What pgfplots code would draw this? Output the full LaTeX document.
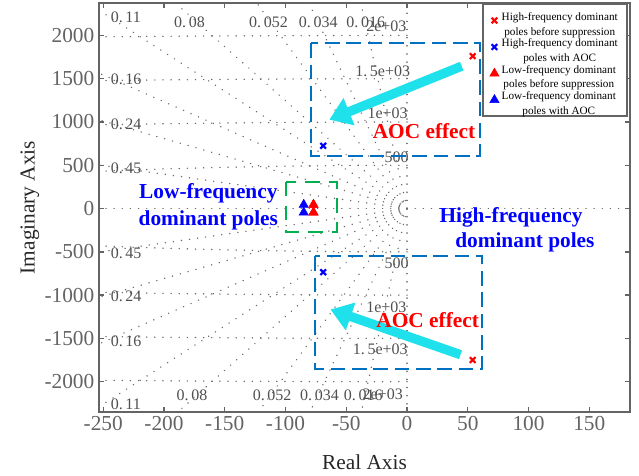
\documentclass[border=0pt]{standalone}
\usepackage{fontspec}
\setmainfont{Liberation Serif}
\usepackage{pgfplots}
\pgfplotsset{compat=1.18}
\usetikzlibrary{arrows.meta}
\definecolor{gridgray}{RGB}{105,105,105}
\definecolor{axgray}{RGB}{100,100,100}
\definecolor{lblgray}{RGB}{80,80,80}
\definecolor{boxblue}{RGB}{0,112,192}
\definecolor{boxgreen}{RGB}{0,176,80}
\definecolor{arrowcyan}{RGB}{30,225,235}
\pgfplotsset{gridline/.style={gridgray, line width=1.1pt, dash pattern=on 0.1pt off 6pt, line cap=round, forget plot}}
\tikzset{gridlbl/.style={text=lblgray, font=\fontsize{12}{12}\selectfont, inner sep=0pt}}
\begin{document}
\begin{tikzpicture}
\begin{axis}[
  scale only axis, width=398.25pt, height=306.75pt,
  xmin=-253.5, xmax=183.5, ymin=-2350, ymax=2375,
  xtick={-250,-200,...,150}, ytick={-2000,-1500,...,2000},
  tick align=inside, major tick length=3.75pt,
  axis line style={axgray, line width=1.6pt},
  tick style={axgray, line width=1pt},
  ticklabel style={font=\fontsize{16}{16}\selectfont, text=axgray},
  /pgf/number format/assume math mode=true,
  /pgf/number format/1000 sep={},
  xlabel={Real Axis}, ylabel={Imaginary Axis},
  label style={font=\fontsize{16}{16}\selectfont, text=black!85},
  xlabel style={at={(axis description cs:0.5,-0.122)}, anchor=center},
  ylabel style={at={(axis description cs:-0.13,0.5)}, anchor=center},
  legend style={at={(rel axis cs:0.996,0.998)}, anchor=north east, draw=axgray, line width=1.2pt,
    fill=white, font=\fontsize{8.4}{9.6}\selectfont, row sep=2pt, inner xsep=5pt, inner ysep=3pt},
  legend cell align=left,
]
% damping rays (zeta = 0.016 ... 0.45), upper and lower
\addplot[gridline] coordinates {(0,0) (-300,18747)};
\addplot[gridline] coordinates {(0,0) (-300,8818)};
\addplot[gridline] coordinates {(0,0) (-300,5761)};
\addplot[gridline] coordinates {(0,0) (-300,3738)};
\addplot[gridline] coordinates {(0,0) (-300,2711)};
\addplot[gridline] coordinates {(0,0) (-300,1851)};
\addplot[gridline] coordinates {(0,0) (-300,1213)};
\addplot[gridline] coordinates {(0,0) (-300,595)};
\addplot[gridline] coordinates {(0,0) (-300,-18747)};
\addplot[gridline] coordinates {(0,0) (-300,-8818)};
\addplot[gridline] coordinates {(0,0) (-300,-5761)};
\addplot[gridline] coordinates {(0,0) (-300,-3738)};
\addplot[gridline] coordinates {(0,0) (-300,-2711)};
\addplot[gridline] coordinates {(0,0) (-300,-1851)};
\addplot[gridline] coordinates {(0,0) (-300,-1213)};
\addplot[gridline] coordinates {(0,0) (-300,-595)};
\addplot[gridline] coordinates {(0,0) (-300,0)};
\addplot[gridline] coordinates {(0,0) (200,0)};
\addplot[gridline] coordinates {(0,0) (0,2500)};
\addplot[gridline] coordinates {(0,0) (0,-2500)};
% natural frequency circles 500, 1000, 1500, 2000
\addplot[gridline] coordinates {(0,500) (-50,497.5) (-100,489.9) (-150,477.0) (-200,458.3) (-260,427.4)};
\addplot[gridline] coordinates {(0,1000) (-50,998.7) (-100,995.0) (-150,988.7) (-200,979.8) (-260,965.6)};
\addplot[gridline] coordinates {(0,1500) (-50,1499.2) (-100,1496.7) (-150,1492.5) (-200,1486.6) (-260,1477.3)};
\addplot[gridline] coordinates {(0,2000) (-50,1999.4) (-100,1997.5) (-150,1994.4) (-200,1990.0) (-260,1983.0)};
\addplot[gridline] coordinates {(0,-500) (-50,-497.5) (-100,-489.9) (-150,-477.0) (-200,-458.3) (-260,-427.4)};
\addplot[gridline] coordinates {(0,-1000) (-50,-998.7) (-100,-995.0) (-150,-988.7) (-200,-979.8) (-260,-965.6)};
\addplot[gridline] coordinates {(0,-1500) (-50,-1499.2) (-100,-1496.7) (-150,-1492.5) (-200,-1486.6) (-260,-1477.3)};
\addplot[gridline] coordinates {(0,-2000) (-50,-1999.4) (-100,-1997.5) (-150,-1994.4) (-200,-1990.0) (-260,-1983.0)};
% grid labels
\node[gridlbl, anchor=west] at (axis cs:-244,2210) {0.\,11};
\node[gridlbl, anchor=west] at (axis cs:-244,1491) {0.\,16};
\node[gridlbl, anchor=west] at (axis cs:-244,975) {0.\,24};
\node[gridlbl, anchor=west] at (axis cs:-244,470) {0.\,45};
\node[gridlbl, anchor=west] at (axis cs:-244,-515) {0.\,45};
\node[gridlbl, anchor=west] at (axis cs:-244,-1014) {0.\,24};
\node[gridlbl, anchor=west] at (axis cs:-244,-1534) {0.\,16};
\node[gridlbl, anchor=west] at (axis cs:-244,-2266) {0.\,11};
\node[gridlbl] at (axis cs:-179,2154) {0.\,08};
\node[gridlbl] at (axis cs:-114,2154) {0.\,052};
\node[gridlbl] at (axis cs:-73,2154) {0.\,034};
\node[gridlbl] at (axis cs:-34,2154) {0.\,016};
\node[gridlbl] at (axis cs:-177,-2162) {0.\,08};
\node[gridlbl] at (axis cs:-111,-2162) {0.\,052};
\node[gridlbl] at (axis cs:-72,-2162) {0.\,034};
\node[gridlbl] at (axis cs:-36,-2162) {0.\,016};
\node[gridlbl] at (axis cs:-17,2108) {2e+03};
\node[gridlbl] at (axis cs:-20,1587) {1.\,5e+03};
\node[gridlbl] at (axis cs:-16,1098) {1e+03};
\node[gridlbl] at (axis cs:-8.5,590) {500};
\node[gridlbl] at (axis cs:-8.5,-636) {500};
\node[gridlbl] at (axis cs:-17,-1137) {1e+03};
\node[gridlbl] at (axis cs:-22,-1630) {1.\,5e+03};
\node[gridlbl] at (axis cs:-20,-2150) {2e+03};
% boxes
\draw[boxblue, line width=1.5pt, dash pattern=on 11pt off 5pt] (axis cs:-79,1908) rectangle (axis cs:60,613);
\draw[boxblue, line width=1.5pt, dash pattern=on 11pt off 5pt] (axis cs:-75.7,-551) rectangle (axis cs:62,-1850);
\draw[boxgreen, line width=1.5pt, dash pattern=on 11pt off 7pt] (axis cs:-99.6,312) rectangle (axis cs:-57.6,-266);
% arrows
\draw[arrowcyan, line width=7pt, -{Triangle[length=16pt, width=21pt]}] (axis cs:45,1645) -- (axis cs:-64,1027);
\draw[arrowcyan, line width=7pt, -{Triangle[length=16pt, width=21pt]}] (axis cs:44,-1688) -- (axis cs:-63,-1166);
% annotations
\node[text=red, font=\bfseries\fontsize{16}{19}\selectfont] at (axis cs:14,894) {AOC effect};
\node[text=red, font=\bfseries\fontsize{16}{19}\selectfont] at (axis cs:17,-1283) {AOC effect};
\node[text=blue, align=center, font=\bfseries\fontsize{16}{20}\selectfont] at (axis cs:-163.5,23) {Low-frequency\\dominant poles};
\node[text=blue, font=\bfseries\fontsize{16}{20}\selectfont] at (axis cs:85.6,-104) {High-frequency};
\node[text=blue, font=\bfseries\fontsize{16}{20}\selectfont] at (axis cs:97,-393) {dominant poles};
% poles
\addplot[only marks, mark=x, mark size=3pt, red, line width=1.6pt] coordinates {(54,1761) (54,-1750)};
\addlegendentry{\begin{tabular}{@{}c@{}}High-frequency dominant\\[1.5pt]poles before suppression\end{tabular}}
\addplot[only marks, mark=x, mark size=3pt, blue, line width=1.6pt] coordinates {(-69,725) (-69,-735)};
\addlegendentry{\begin{tabular}{@{}c@{}}High-frequency dominant\\[1.5pt]poles with AOC\end{tabular}}
\addplot[only marks, mark=triangle*, mark size=4pt, red, line width=0.4pt] coordinates {(-77,45) (-77,-45)};
\addlegendentry{\begin{tabular}{@{}c@{}}Low-frequency dominant\\[1.5pt]poles before suppression\end{tabular}}
\addplot[only marks, mark=triangle*, mark size=4pt, blue, line width=0.4pt] coordinates {(-85,45) (-85,-45)};
\addlegendentry{\begin{tabular}{@{}c@{}}Low-frequency dominant\\[1.5pt]poles with AOC\end{tabular}}
\addplot[only marks, mark=triangle*, mark size=4pt, red, line width=0.4pt, forget plot] coordinates {(-77,45) (-77,-45)};
\coordinate (bbsw) at (rel axis cs:0,0);
\coordinate (bbne) at (rel axis cs:1,1);
\end{axis}
\pgfresetboundingbox
\path[use as bounding box] ([shift={(-74.25pt,-47.25pt)}]bbsw) rectangle ([shift={(6.75pt,2.25pt)}]bbne);
\end{tikzpicture}
\end{document}
